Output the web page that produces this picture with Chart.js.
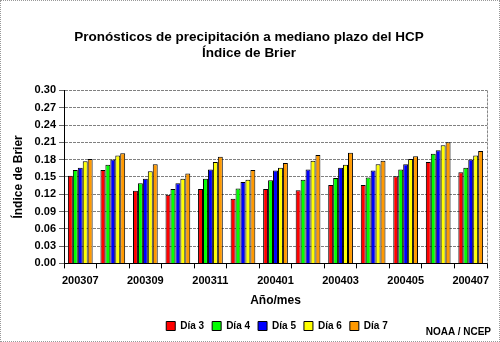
<!DOCTYPE html>
<html>
<head>
<meta charset="utf-8">
<script src="https://cdn.jsdelivr.net/npm/chart.js@4/dist/chart.umd.min.js"></script>
<style>
body{margin:0;background:#fff;}
#wrap{position:relative;width:500px;height:342px;box-sizing:border-box;border:1px dotted #999;}
#src{position:absolute;right:8px;bottom:4px;font:bold 10px "Liberation Sans",Arial,sans-serif;color:#000;}
</style>
</head>
<body>
<div id="wrap">
<canvas id="chart" width="498" height="340"></canvas>
<div id="src">NOAA / NCEP</div>
</div>
<script>
// meses
var months = ["200307","200308","200309","200310","200311","200312","200401","200402","200403","200404","200405","200406","200407"];
var seriesNames = ["Día 3","Día 4","Día 5","Día 6","Día 7"];
var seriesColors = ["#FF0000","#00FF00","#0000FF","#FFFF00","#FF9900"];
var dia3 = [0.152,0.162,0.126,0.119,0.129,0.112,0.129,0.127,0.136,0.136,0.151,0.176,0.158];
var dia4 = [0.162,0.171,0.139,0.129,0.147,0.130,0.144,0.145,0.148,0.149,0.163,0.190,0.166];
var dia5 = [0.166,0.180,0.147,0.139,0.163,0.141,0.161,0.163,0.166,0.161,0.172,0.196,0.180];
var dia6 = [0.177,0.187,0.160,0.147,0.176,0.145,0.166,0.178,0.171,0.172,0.181,0.205,0.187];
var dia7 = [0.181,0.191,0.172,0.156,0.185,0.162,0.174,0.188,0.192,0.178,0.186,0.210,0.195];
var yTicks = [0,0.03,0.06,0.09,0.12,0.15,0.18,0.21,0.24,0.27,0.30];

var FONT = "'Liberation Sans', Arial, sans-serif";
var allData = [dia3,dia4,dia5,dia6,dia7];

var datasets = [];
for(var i=0;i<seriesNames.length;i++){
    datasets.push({
        label: seriesNames[i],
        data: allData[i],
        backgroundColor: seriesColors[i],
        borderColor: "#000",
        borderWidth: 1,
        categoryPercentage: 0.76,
        barPercentage: 1.0
    });
}

// borde derecho punteado del area de trazado, y leyenda un poco a la derecha
var extras = {
    id: "extras",
    afterLayout: function(chart){
        chart.legend.left += 28;
        chart.legend.right += 28;
    },
    afterDraw: function(chart){
        var a = chart.chartArea, c = chart.ctx;
        c.save();
        c.strokeStyle = "#888";
        c.setLineDash([3,1]);
        c.lineWidth = 1;
        c.beginPath();
        c.moveTo(a.right+0.5, a.top);
        c.lineTo(a.right+0.5, a.bottom);
        c.stroke();
        c.restore();
    }
};

new Chart(document.getElementById("chart").getContext("2d"), {
    type: "bar",
    data: {labels: months, datasets: datasets},
    plugins: [extras],
    options: {
        responsive: false,
        animation: false,
        layout: {padding: {left: 10, right: 12, top: 28, bottom: 0}},
        plugins: {
            title: {
                display: true,
                text: ["Pronósticos de precipitación a mediano plazo del HCP", "Índice de Brier"],
                color: "#000",
                font: {family: FONT, size: 13.5, weight: "bold"},
                lineHeight: 1.3,
                padding: {top: 0, bottom: 29}
            },
            legend: {
                position: "bottom",
                labels: {
                    color: "#000",
                    font: {family: FONT, size: 10, weight: "bold"},
                    boxWidth: 9,
                    boxHeight: 9,
                    padding: 8
                }
            },
            tooltip: {enabled: false}
        },
        scales: {
            x: {
                offset: true,
                grid: {offset: true, drawOnChartArea: false, drawTicks: true, tickLength: 5, color: "#000"},
                border: {color: "#000"},
                ticks: {
                    autoSkip: false,
                    maxRotation: 0,
                    padding: 6,
                    color: "#000",
                    font: {family: FONT, size: 11, weight: "bold"},
                    callback: function(v, i){ return i % 2 == 0 ? months[i] : ""; }
                },
                title: {display: true, text: "Año/mes", color: "#000", font: {family: FONT, size: 12, weight: "bold"}, padding: {top: 0, bottom: 5}}
            },
            y: {
                min: 0,
                max: 0.30,
                afterBuildTicks: function(axis){ axis.ticks = yTicks.map(function(v){ return {value: v}; }); },
                afterFit: function(axis){ axis.width = 53; },
                grid: {color: "#808080", tickLength: 5, tickColor: "#666"},
                border: {color: "#000", dash: [3,1]},
                ticks: {
                    color: "#000",
                    font: {family: FONT, size: 11, weight: "bold"},
                    padding: 3,
                    callback: function(v){ return v.toFixed(2); }
                },
                title: {display: true, text: "Índice de Brier", color: "#000", font: {family: FONT, size: 12, weight: "bold"}, padding: 0}
            }
        }
    }
});
</script>
</body>
</html>
